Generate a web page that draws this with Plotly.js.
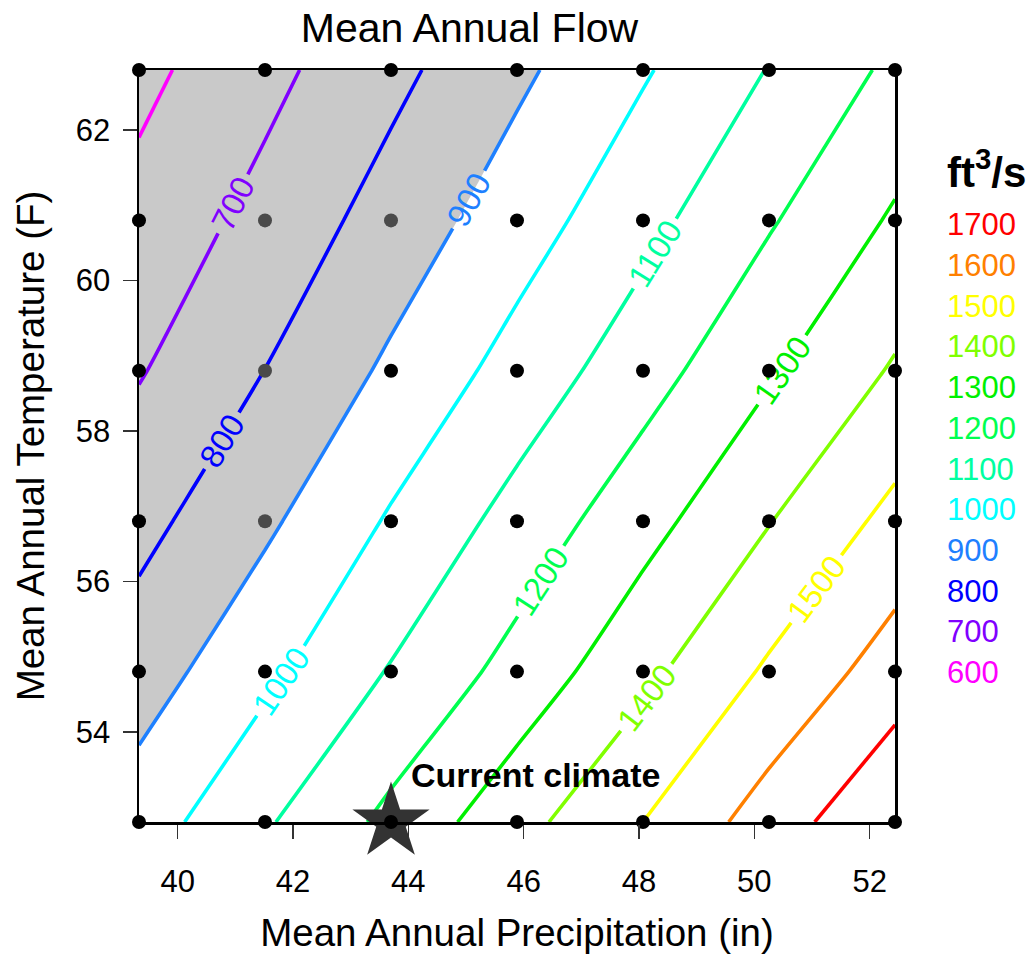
<!DOCTYPE html>
<html><head><meta charset="utf-8">
<script src="https://cdn.plot.ly/plotly-3.0.1.min.js"></script>
<style>html,body{margin:0;padding:0;background:#fff}#chart{width:1036px;height:960px}</style>
</head><body><div id="chart"></div>
<script>
// ---- data ----
const precipitation = [39.33, 41.515, 43.7, 45.885, 48.07, 50.255, 52.44]; // in
const temperature = [52.8, 54.8, 56.8, 58.8, 60.8, 62.8];                  // F
// mean annual flow (ft3/s) at each grid point: rows = temperature, cols = precipitation
const flowT528 = [950, 1088, 1226, 1366, 1500, 1647, 1793];
const flowT548 = [852, 976, 1107, 1236, 1374, 1515, 1649];
const flowT568 = [770, 882, 1011, 1136, 1264, 1396, 1530];
const flowT588 = [693, 801, 918, 1038, 1158, 1287, 1411];
const flowT608 = [632, 732, 841, 953, 1069, 1190, 1313];
const flowT628 = [574, 672, 774, 880, 990, 1104, 1221];
const flow = [flowT528, flowT548, flowT568, flowT588, flowT608, flowT628];

const levels = [600, 700, 800, 900, 1000, 1100, 1200, 1300, 1400, 1500, 1600, 1700];
const levelColors = ['#FF00FF', '#8000FF', '#0000FF', '#1E80FF', '#00FFFF', '#00FFA0',
                     '#00FF50', '#00F000', '#80FF00', '#FFFF00', '#FF8000', '#FF0000'];
const shadeBelow = 900;
const currentPrecip = 43.7;
const currentTemp = 52.8;
const currentLabel = 'Current climate';
const xTicks = [40, 42, 44, 46, 48, 50, 52];
const yTicks = [54, 56, 58, 60, 62];
const unitLabel = 'ft<sup>3</sup>/s';

// ---- build ----
const FONT = '"Liberation Sans", Arial, sans-serif';
const SMOOTH = 0.6;
const lo = levels[0], hi = levels[levels.length - 1];
const colorscale = levels.map((l, i) => [(l - lo) / (hi - lo), levelColors[i]]);

const dotX = [], dotY = [], dotC = [];
temperature.forEach((t, j) => precipitation.forEach((p, i) => {
  dotX.push(p); dotY.push(t);
  const inside = flow[j][i] < shadeBelow && i > 0 && j < temperature.length - 1;
  dotC.push(inside ? '#4a4a4a' : '#000000');
}));

const traces = [
  // constraint '>' keeps z > value and shades the rest (z < value)
  { type: 'contour', x: precipitation, y: temperature, z: flow,
    contours: { type: 'constraint', operation: '>', value: shadeBelow },
    fillcolor: '#c9c9c9', line: { width: 0, color: 'rgba(0,0,0,0)', smoothing: SMOOTH },
    showscale: false, hoverinfo: 'skip' },
  { type: 'contour', x: precipitation, y: temperature, z: flow,
    colorscale: colorscale, showscale: false,
    contours: { coloring: 'lines', start: lo, end: hi, size: levels[1] - levels[0],
      showlabels: true, labelformat: 'd', labelfont: { family: FONT, size: 33 } },
    line: { width: 3.6, smoothing: SMOOTH } },
  { type: 'scatter', mode: 'markers', x: [currentPrecip], y: [currentTemp],
    marker: { symbol: 'star', size: 58, color: '#333333', line: { width: 0 } },
    cliponaxis: false, hoverinfo: 'skip' },
  { type: 'scatter', mode: 'markers', x: dotX, y: dotY,
    marker: { size: 14, color: dotC, line: { width: 0 } }, cliponaxis: false }
];

const annotations = [];
annotations.push({ xref: 'paper', yref: 'paper', x: 1.066, y: 0.869, xanchor: 'left', yanchor: 'middle',
  text: '<b>' + unitLabel + '</b>', showarrow: false, font: { family: FONT, size: 42, color: '#000' } });
for (let k = levels.length - 1, r = 0; k >= 0; k--, r++) {
  annotations.push({ xref: 'paper', yref: 'paper', x: 1.066, y: 0.794 - r * 0.0541,
    xanchor: 'left', yanchor: 'middle', text: String(levels[k]), showarrow: false,
    font: { family: FONT, size: 31, color: levelColors[k] } });
}
annotations.push({ x: currentPrecip, y: currentTemp, xanchor: 'left', yanchor: 'middle',
  xshift: 18, yshift: 47, text: '<b>' + currentLabel + '</b>', showarrow: false,
  font: { family: FONT, size: 34, color: '#000' } });

const axisCommon = { showgrid: false, zeroline: false, showline: true, mirror: true,
  linecolor: '#000', linewidth: 2.5, ticks: 'outside', ticklen: 14, tickwidth: 1.5,
  tickcolor: '#333', tickfont: { family: FONT, size: 31, color: '#000' } };

const layout = {
  width: 1036, height: 960, paper_bgcolor: '#fff', plot_bgcolor: '#fff',
  margin: { l: 139, r: 141, t: 70, b: 138 },
  showlegend: false,
  title: { text: 'Mean Annual Flow', x: 0.4532, xanchor: 'center', y: 0.9708, yanchor: 'middle',
    font: { family: FONT, size: 41, color: '#000' } },
  xaxis: Object.assign({}, axisCommon, { range: [precipitation[0], precipitation[precipitation.length - 1]],
    tickvals: xTicks, ticklabelstandoff: 16,
    title: { text: 'Mean Annual Precipitation (in)', standoff: 22, font: { family: FONT, size: 38.5, color: '#000' } } }),
  yaxis: Object.assign({}, axisCommon, { range: [temperature[0], temperature[temperature.length - 1]],
    tickvals: yTicks, ticklabelstandoff: 6,
    title: { text: 'Mean Annual Temperature (F)', standoff: 20, font: { family: FONT, size: 38.5, color: '#000' } } }),
  annotations: annotations
};

Plotly.newPlot('chart', traces, layout, { staticPlot: true, displayModeBar: false });
</script>
</body></html>
